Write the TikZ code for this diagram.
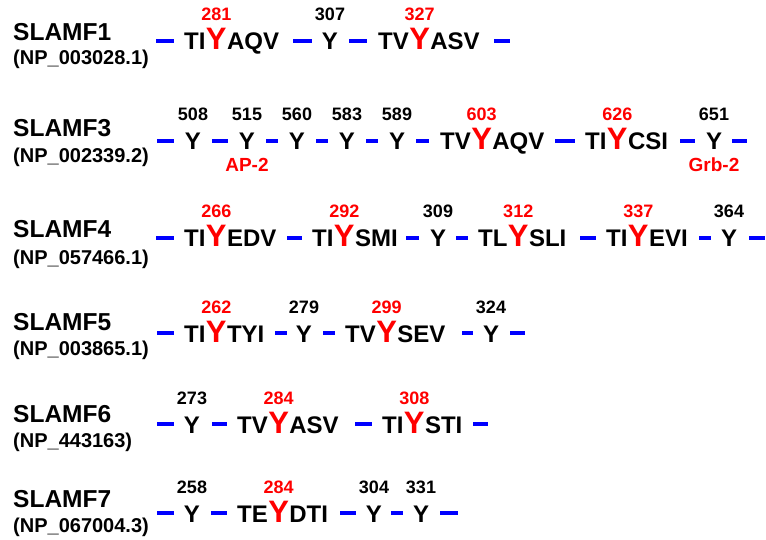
\documentclass[tikz,border=0pt]{standalone}
\usepackage{fontspec}
\setmainfont{Liberation Sans}
\definecolor{sred}{RGB}{255,0,0}
\definecolor{sblue}{RGB}{0,0,255}
\tikzset{
  res/.style={font=\fontsize{24}{24}\selectfont\bfseries, inner sep=0pt, text=black},
  bigy/.style={font=\fontsize{31}{31}\selectfont\bfseries, inner sep=0pt, text=sred},
  num/.style={font=\fontsize{18}{18}\selectfont\bfseries, inner sep=0pt, anchor=base},
  lab/.style={font=\fontsize{24.5}{24.5}\selectfont\bfseries, inner sep=0pt, anchor=base west},
  acc/.style={font=\fontsize{20}{20}\selectfont\bfseries, inner sep=0pt, anchor=base west},
  bind/.style={font=\fontsize{19}{19}\selectfont\bfseries, inner sep=0pt, anchor=base, text=sred},
  bar/.style={draw=sblue, line width=4pt}
}
% #1 name, #2 x1, #3 x2, #4 baseline of row
\newcommand\segbar[4]{%
  \coordinate (#1a) at (#2,#4-9);
  \coordinate (#1b) at (#3,#4-9);
  \draw[bar] (#1a) -- (#1b);}
% #1 name, #2 start x, #3 baseline, #4 prefix, #5 suffix, #6 number
\newcommand\motif[6]{%
  \node[res, anchor=base west] (#1p) at (#2,#3) {#4};
  \node[bigy, anchor=base west] (#1y) at (#1p.base east) {Y};
  \node[res, anchor=base west] (#1s) at (#1y.base east) {#5};
  \node[num, text=sred] (#1n) at ([yshift=29pt]#1y.base) {#6};}
% #1 name, #2 centre x, #3 baseline, #4 number
\newcommand\resy[4]{%
  \node[res, anchor=base] (#1) at (#2,#3) {Y};
  \node[num, text=black] (#1n) at ([yshift=29pt]#1.base) {#4};}
\begin{document}
\begin{tikzpicture}[x=1pt,y=-1pt]
\useasboundingbox[fill=white] (0,0) rectangle (766,540);

% ---------- SLAMF1 ----------
\node[lab] (l1) at (13,41) {SLAMF1};
\node[acc] (a1) at (13,65) {(NP\_003028.1)};
\segbar{r1d1}{156}{174}{50}
\motif{r1m1}{184}{50}{TI}{AQV}{281}
\segbar{r1d2}{293}{312}{50}
\resy{r1y1}{330}{50}{307}
\segbar{r1d3}{349}{367}{50}
\motif{r1m2}{378}{50}{TV}{ASV}{327}
\segbar{r1d4}{494}{510}{50}

% ---------- SLAMF3 ----------
\node[lab] (l2) at (13,137) {SLAMF3};
\node[acc] (a2) at (13,163) {(NP\_002339.2)};
\segbar{r2d1}{157}{174}{150}
\resy{r2y1}{193}{150}{508}
\segbar{r2d2}{212}{228}{150}
\resy{r2y2}{247}{150}{515}
\segbar{r2d3}{266}{278}{150}
\resy{r2y3}{297}{150}{560}
\segbar{r2d4}{316}{328}{150}
\resy{r2y4}{347}{150}{583}
\segbar{r2d5}{366}{378}{150}
\resy{r2y5}{397}{150}{589}
\segbar{r2d6}{416}{429}{150}
\motif{r2m1}{440}{150}{TV}{AQV}{603}
\segbar{r2d7}{555}{575}{150}
\motif{r2m2}{585}{150}{TI}{CSI}{626}
\segbar{r2d8}{680}{695}{150}
\resy{r2y6}{714}{150}{651}
\segbar{r2d9}{732}{747}{150}
\node[bind] (ap2) at ([yshift=-22pt]r2y2.base) {AP-2};
\node[bind] (grb2) at ([yshift=-22pt]r2y6.base) {Grb-2};

% ---------- SLAMF4 ----------
\node[lab] (l3) at (13,238) {SLAMF4};
\node[acc] (a3) at (13,265) {(NP\_057466.1)};
\segbar{r3d1}{156}{174}{247}
\motif{r3m1}{184}{247}{TI}{EDV}{266}
\segbar{r3d2}{287}{302}{247}
\motif{r3m2}{312}{247}{TI}{SMI}{292}
\segbar{r3d3}{406}{419}{247}
\resy{r3y1}{438}{247}{309}
\segbar{r3d4}{456}{468}{247}
\motif{r3m3}{478}{247}{TL}{SLI}{312}
\segbar{r3d5}{580}{596}{247}
\motif{r3m4}{606}{247}{TI}{EVI}{337}
\segbar{r3d6}{699}{711}{247}
\resy{r3y2}{729}{247}{364}
\segbar{r3d7}{749}{765}{247}

% ---------- SLAMF5 ----------
\node[lab] (l4) at (13,330) {SLAMF5};
\node[acc] (a4) at (13,355) {(NP\_003865.1)};
\segbar{r4d1}{157}{174}{342}
\motif{r4m1}{184}{342}{TI}{TYI}{262}
\segbar{r4d2}{275}{287}{342}
\resy{r4y1}{304}{342}{279}
\segbar{r4d3}{323}{335}{342}
\motif{r4m2}{345}{342}{TV}{SEV}{299}
\segbar{r4d4}{462}{473}{342}
\resy{r4y2}{491}{342}{324}
\segbar{r4d5}{510}{525}{342}

% ---------- SLAMF6 ----------
\node[lab] (l5) at (13,422) {SLAMF6};
\node[acc] (a5) at (13,447) {(NP\_443163)};
\segbar{r5d1}{157}{174}{433}
\resy{r5y1}{192}{433}{273}
\segbar{r5d2}{212}{227}{433}
\motif{r5m1}{237}{433}{TV}{ASV}{284}
\segbar{r5d3}{355}{372}{433}
\motif{r5m2}{382}{433}{TI}{STI}{308}
\segbar{r5d4}{473}{488}{433}

% ---------- SLAMF7 ----------
\node[lab] (l6) at (13,507) {SLAMF7};
\node[acc] (a6) at (13,532) {(NP\_067004.3)};
\segbar{r6d1}{157}{174}{522}
\resy{r6y1}{192}{522}{258}
\segbar{r6d2}{211}{227}{522}
\motif{r6m1}{237}{522}{TE}{DTI}{284}
\segbar{r6d3}{340}{356}{522}
\resy{r6y2}{374}{522}{304}
\segbar{r6d4}{391}{403}{522}
\resy{r6y3}{421}{522}{331}
\segbar{r6d5}{440}{458}{522}
\end{tikzpicture}
\end{document}
